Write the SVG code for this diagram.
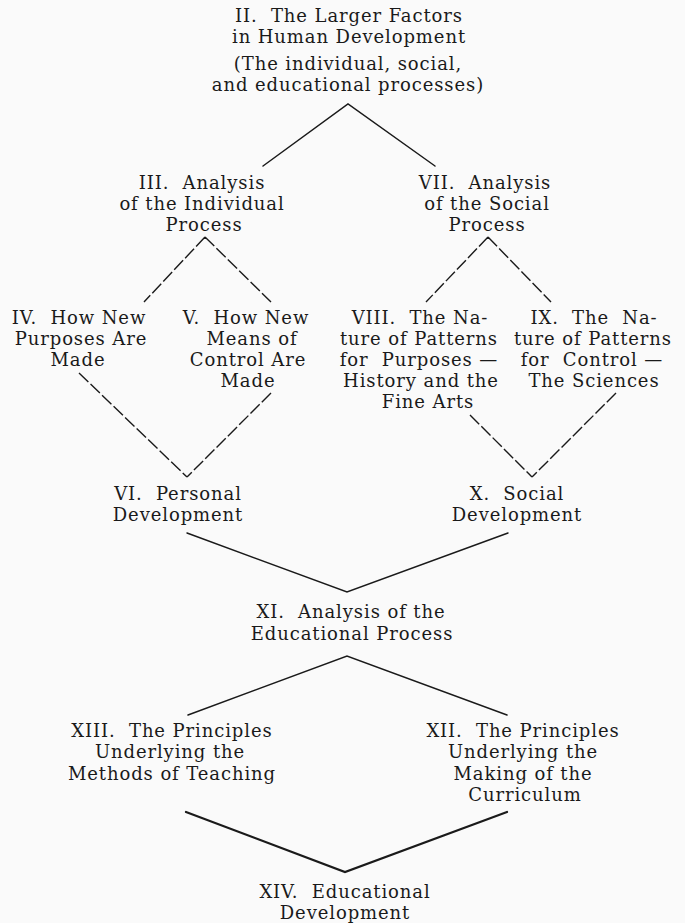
<svg xmlns="http://www.w3.org/2000/svg" width="685" height="923" viewBox="0 0 685 923" xml:space="preserve">
<style>
text{font-family:"DejaVu Serif","Liberation Serif",serif;font-size:18px;letter-spacing:0.9px;fill:#1a1a1a;text-anchor:middle;white-space:pre}
.s{stroke:#1a1a1a;stroke-width:1.5;fill:none;stroke-linecap:round}
.d{stroke:#1a1a1a;stroke-width:1.4;fill:none;stroke-dasharray:13 3}
.t{stroke:#1a1a1a;stroke-width:2.2;fill:none;stroke-linecap:round}
</style>
<rect width="685" height="923" fill="#fafafa"/>
<g id="connectors">
<path class="s" d="M263,166 L348,104 L435,166"/>
<path class="d" d="M205,237 L144,302 M205,237 L271,302"/>
<path class="d" d="M488,237 L426,302 M488,237 L551,302"/>
<path class="d" d="M79,373 L187,477 M271,393 L187,477"/>
<path class="d" d="M470,415 L532,477 M616,393 L532,477"/>
<path class="s" d="M187,533 L347,592 L508,533"/>
<path class="s" d="M188,715 L347,656 L507,715"/>
<path class="t" d="M186,812 L345,872 L507,812"/>
</g>
<g id="n2">
<text x="349" y="22">II.  The Larger Factors</text>
<text x="349" y="43">in Human Development</text>
<text x="348" y="70">(The individual, social,</text>
<text x="348" y="91">and educational processes)</text>
</g>
<g id="n3">
<text x="202" y="189">III.  Analysis</text>
<text x="202" y="210">of the Individual</text>
<text x="204" y="231">Process</text>
</g>
<g id="n7">
<text x="485" y="189">VII.  Analysis</text>
<text x="487" y="210">of the Social</text>
<text x="487" y="231">Process</text>
</g>
<g id="n4">
<text x="79" y="324">IV.  How New</text>
<text x="81" y="345">Purposes Are</text>
<text x="78" y="366">Made</text>
</g>
<g id="n5">
<text x="246" y="324">V.  How New</text>
<text x="252" y="345">Means of</text>
<text x="248" y="366">Control Are</text>
<text x="248" y="387">Made</text>
</g>
<g id="n8">
<text x="420" y="324">VIII.  The Na-</text>
<text x="419" y="345">ture of Patterns</text>
<text x="419" y="366">for  Purposes —</text>
<text x="421" y="387">History and the</text>
<text x="428" y="408">Fine Arts</text>
</g>
<g id="n9">
<text x="594" y="324">IX.  The  Na-</text>
<text x="593" y="345">ture of Patterns</text>
<text x="592" y="366">for  Control —</text>
<text x="594" y="387">The Sciences</text>
</g>
<g id="n6">
<text x="178" y="500">VI.  Personal</text>
<text x="178" y="521">Development</text>
</g>
<g id="n10">
<text x="517" y="500">X.  Social</text>
<text x="517" y="521">Development</text>
</g>
<g id="n11">
<text x="351" y="618">XI.  Analysis of the</text>
<text x="352" y="640">Educational Process</text>
</g>
<g id="n13">
<text x="172" y="737">XIII.  The Principles</text>
<text x="170" y="758">Underlying the</text>
<text x="172" y="780">Methods of Teaching</text>
</g>
<g id="n12">
<text x="523" y="737">XII.  The Principles</text>
<text x="523" y="758">Underlying the</text>
<text x="523" y="780">Making of the</text>
<text x="525" y="801">Curriculum</text>
</g>
<g id="n14">
<text x="345" y="898">XIV.  Educational</text>
<text x="345" y="919">Development</text>
</g>
</svg>
